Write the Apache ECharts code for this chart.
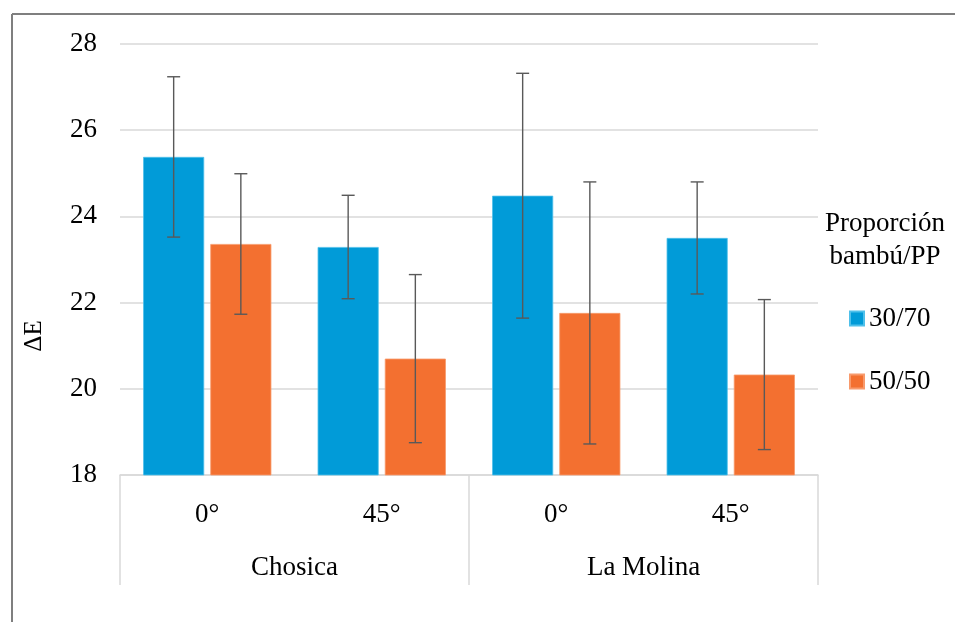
<!DOCTYPE html>
<html>
<head>
<meta charset="utf-8">
<script src="https://cdn.jsdelivr.net/npm/echarts@6/dist/echarts.min.js"></script>
<style>html,body{margin:0;padding:0;background:#fff}#c{width:955px;height:622px}</style>
</head>
<body>
<div id="c"></div>
<script>
var angles = ['0°', '45°', '0°', '45°'];
var sites = ['Chosica', 'La Molina'];
var seriesNames = ['30/70', '50/50'];
var mean3070 = [25.38, 23.29, 24.48, 23.50];
var err3070 = [1.86, 1.20, 2.84, 1.30];
var mean5050 = [23.36, 20.70, 21.76, 20.33];
var err5050 = [1.63, 1.95, 3.04, 1.74];
var yTicks = [18, 20, 22, 24, 26, 28];

var FONT = 'Liberation Serif';
var BAR_W = 0.35, BAR_GAP = 0.1;

function errData(means, errs) {
  return means.map(function (m, i) { return [i, m - errs[i], m + errs[i]]; });
}
function errSeries(means, errs, sIdx) {
  return {
    type: 'custom',
    z: 10,
    silent: true,
    data: errData(means, errs),
    encode: { x: 0, y: [1, 2] },
    renderItem: function (params, api) {
      var band = api.size([1, 0])[0];
      var bw = band * BAR_W;
      var off = (bw + bw * BAR_GAP) / 2 * (sIdx === 0 ? -1 : 1);
      var lo = api.coord([api.value(0), api.value(1)]);
      var hi = api.coord([api.value(0), api.value(2)]);
      var x = lo[0] + off;
      var cap = 6.5;
      var st = { stroke: '#595959', lineWidth: 1.4 };
      return {
        type: 'group',
        children: [
          { type: 'line', shape: { x1: x, y1: lo[1], x2: x, y2: hi[1] }, style: st },
          { type: 'line', shape: { x1: x - cap, y1: lo[1], x2: x + cap, y2: lo[1] }, style: st },
          { type: 'line', shape: { x1: x - cap, y1: hi[1], x2: x + cap, y2: hi[1] }, style: st }
        ]
      };
    }
  };
}

var chart = echarts.init(document.getElementById('c'));
chart.setOption({
  animation: false,
  textStyle: { fontFamily: FONT },
  grid: { left: 120, right: 137, top: 44, bottom: 147 },
  xAxis: [{
    type: 'category',
    data: angles,
    axisLine: { lineStyle: { color: '#d9d9d9', width: 1.5 } },
    axisTick: { show: false },
    axisLabel: { color: '#000', fontSize: 27, fontFamily: FONT, margin: 26 }
  }, {
    type: 'category',
    data: sites,
    position: 'bottom',
    axisLine: { show: false },
    axisTick: { show: true, length: 110, interval: 0, lineStyle: { color: '#d9d9d9', width: 1.5 } },
    axisLabel: { color: '#000', fontSize: 27, fontFamily: FONT, margin: 79 },
    splitLine: { show: false }
  }],
  yAxis: {
    type: 'value',
    min: yTicks[0], max: yTicks[yTicks.length - 1], interval: 2,
    axisLine: { show: false },
    axisTick: { show: false },
    axisLabel: { color: '#000', fontSize: 27, fontFamily: FONT, margin: 23 },
    splitLine: { lineStyle: { color: '#d9d9d9', width: 1.5 } }
  },
  legend: {
    orient: 'vertical',
    left: 844,
    top: 300,
    itemWidth: 14,
    itemHeight: 14,
    itemGap: 36,
    itemTextGap: 8,
    icon: 'rect',
    data: seriesNames,
    textStyle: { color: '#000', fontSize: 27, fontFamily: FONT }
  },
  graphic: [
    { type: 'line', shape: { x1: 12, y1: 14, x2: 955, y2: 14 }, style: { stroke: '#7f7f7f', lineWidth: 2 } },
    { type: 'line', shape: { x1: 12, y1: 14, x2: 12, y2: 622 }, style: { stroke: '#7f7f7f', lineWidth: 2 } },
    { type: 'text', left: 822, top: 207, style: { text: 'Proporción\nbambú/PP', font: '27px "Liberation Serif"', fill: '#000', textAlign: 'center', lineHeight: 33, width: 126 } },
    { type: 'text', x: 34, y: 336, rotation: Math.PI / 2, style: { text: 'ΔE', font: '25px "Liberation Serif"', fill: '#000', textAlign: 'center', textVerticalAlign: 'middle' } }
  ],
  series: [
    { name: seriesNames[0], type: 'bar', data: mean3070, barWidth: (BAR_W * 100) + '%', barGap: (BAR_GAP * 100) + '%', itemStyle: { color: '#019BD8', borderColor: '#4fc0ea', borderWidth: 0.8 } },
    { name: seriesNames[1], type: 'bar', data: mean5050, barWidth: (BAR_W * 100) + '%', barGap: (BAR_GAP * 100) + '%', itemStyle: { color: '#F37030', borderColor: '#f89a6c', borderWidth: 0.8 } },
    errSeries(mean3070, err3070, 0),
    errSeries(mean5050, err5050, 1)
  ]
});
</script>
</body>
</html>
